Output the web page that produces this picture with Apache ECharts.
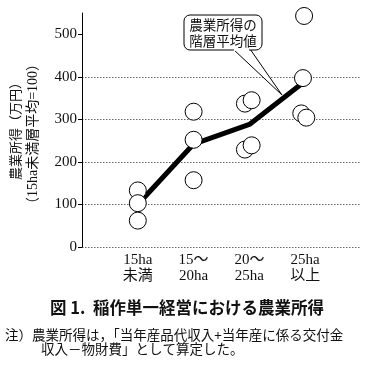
<!DOCTYPE html>
<html><head><meta charset="utf-8">
<script src="https://cdn.jsdelivr.net/npm/echarts@6/dist/echarts.min.js"></script>
<style>html,body{margin:0;padding:0;background:#fff}#c{width:373px;height:376px}</style>
</head><body><div id="c"></div>
<script>
const categories = ['15ha\n未満', '15～\n20ha', '20～\n25ha', '25ha\n以上'];
const yTicks = [0, 100, 200, 300, 400, 500];
const meanValues = [100, 242, 288, 390];
// individual farms: category position (with small overlap offset) and value
const farmX = [1, 1, 1, 2, 2, 2, 2.92, 3.04, 2.92, 3.04, 3.98, 3.96, 3.93, 4.02];
const farmY = [133, 103, 62, 318, 252, 157, 337, 345, 229, 239, 543, 397, 314, 304];

const serif = '"Liberation Serif","DejaVu Serif","Noto Sans CJK JP",serif';
const sans = '"Noto Sans CJK JP",sans-serif';
const chart = echarts.init(document.getElementById('c'));
chart.setOption({
  animation: false,
  grid: {left: 82, right: 12, top: 13, bottom: 129},
  xAxis: {
    type: 'value', min: 0, max: 5, interval: 1,
    axisLine: {show: false}, axisTick: {show: false}, splitLine: {show: false},
    axisLabel: {
      color: '#111', fontFamily: serif, fontSize: 15, lineHeight: 16, margin: 5,
      formatter: v => (v >= 1 && v <= 4) ? categories[v - 1] : ''
    }
  },
  yAxis: {
    type: 'value', min: 0, max: 550, interval: 100,
    axisLine: {show: true, lineStyle: {color: '#000', width: 1}},
    axisTick: {show: true, length: 4, customValues: yTicks, lineStyle: {color: '#000'}},
    axisLabel: {color: '#111', fontFamily: serif, fontSize: 15, margin: 5, customValues: yTicks},
    splitLine: {show: true, showMaxLine: false, lineStyle: {color: '#666', type: [1.5, 1.5], width: 1}}
  },
  series: [
    {type: 'line', data: meanValues.map((v, i) => [i + 1, v]), symbol: 'none',
     lineStyle: {color: '#000', width: 5}, z: 2},
    {type: 'scatter', data: farmX.map((x, i) => [x, farmY[i]]), symbol: 'circle', symbolSize: 17,
     itemStyle: {color: '#fff', borderColor: '#000', borderWidth: 1, opacity: 1}, z: 3}
  ],
  graphic: [
    {type: 'polygon', shape: {points: [[233, 49], [282, 95], [250, 49]]},
     style: {fill: '#fff', stroke: '#000', lineWidth: 1}, z: 10},
    {type: 'rect', shape: {x: 184, y: 15, width: 78, height: 35, r: 6},
     style: {fill: '#fff', stroke: '#000', lineWidth: 1}, z: 11},
    {type: 'rect', shape: {x: 234, y: 48, width: 15, height: 3}, style: {fill: '#fff'}, z: 12},
    {type: 'text', x: 223, y: 32.5, z: 13,
     style: {text: '農業所得の\n階層平均値', font: '13.5px ' + sans, lineHeight: 16, fill: '#111',
             textAlign: 'center', textVerticalAlign: 'middle'}},
    {type: 'text', x: 15, y: 128, rotation: Math.PI / 2, z: 5,
     style: {text: '農業所得（万円）', font: '13px ' + sans, fill: '#111',
             textAlign: 'center', textVerticalAlign: 'middle'}},
    {type: 'text', x: 33, y: 134, rotation: Math.PI / 2, z: 5,
     style: {text: '（15ha未満層平均=100）', font: '14px ' + serif, fill: '#111',
             textAlign: 'center', textVerticalAlign: 'middle'}},
    {type: 'text', x: 187, y: 308, z: 5,
     style: {text: '図 1.  稲作単一経営における農業所得', font: 'bold 16.5px ' + sans, fill: '#111',
             textAlign: 'center', textVerticalAlign: 'middle'}},
    {type: 'text', x: 5, y: 335, z: 5,
     style: {text: '注）農業所得は，「当年産品代収入+当年産に係る交付金', font: '13.5px ' + sans, fill: '#111',
             textAlign: 'left', textVerticalAlign: 'middle'}},
    {type: 'text', x: 41, y: 349, z: 5,
     style: {text: '収入－物財費」として算定した。', font: '13.5px ' + sans, fill: '#111',
             textAlign: 'left', textVerticalAlign: 'middle'}}
  ]
});
</script></body></html>
